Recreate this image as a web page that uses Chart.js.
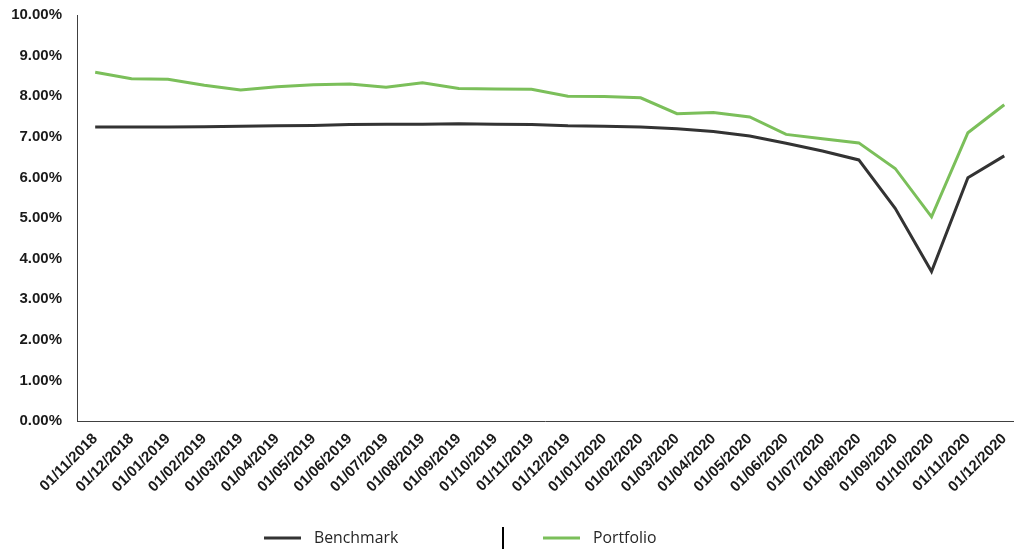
<!DOCTYPE html>
<html>
<head>
<meta charset="utf-8">
<script src="https://cdn.jsdelivr.net/npm/chart.js@4"></script>
<style>
  html, body { margin: 0; padding: 0; background: #ffffff; overflow: hidden; }
  #wrap { width: 1018px; height: 549px; position: relative; }
</style>
</head>
<body>
<div id="wrap"><canvas id="c" width="1018" height="549"></canvas></div>
<script>
const categories = ["01/11/2018","01/12/2018","01/01/2019","01/02/2019","01/03/2019","01/04/2019","01/05/2019","01/06/2019","01/07/2019","01/08/2019","01/09/2019","01/10/2019","01/11/2019","01/12/2019","01/01/2020","01/02/2020","01/03/2020","01/04/2020","01/05/2020","01/06/2020","01/07/2020","01/08/2020","01/09/2020","01/10/2020","01/11/2020","01/12/2020"];
const benchmark = [7.24,7.24,7.24,7.25,7.26,7.27,7.28,7.30,7.31,7.31,7.32,7.31,7.30,7.27,7.26,7.24,7.20,7.13,7.02,6.84,6.65,6.43,5.24,3.68,5.99,6.53];
const portfolio = [8.59,8.43,8.42,8.27,8.15,8.23,8.28,8.30,8.22,8.33,8.19,8.18,8.17,8.00,7.99,7.96,7.57,7.60,7.49,7.06,6.95,6.85,6.22,5.03,7.10,7.79];
const yTicks = [0,1,2,3,4,5,6,7,8,9,10];
const seriesNames = ["Benchmark","Portfolio"];

const toPoints = arr => arr.map((v, i) => ({x: i, y: v}));

const legendPlugin = {
  id: 'customLegend',
  afterDraw(chart, args, opts) {
    const ctx = chart.ctx;
    ctx.save();
    const ds = chart.data.datasets;
    opts.items.forEach((it, i) => {
      const d = ds[i];
      ctx.strokeStyle = d.borderColor;
      ctx.lineWidth = 3;
      ctx.beginPath();
      ctx.moveTo(it.x, opts.y);
      ctx.lineTo(it.x + opts.lineLen, opts.y);
      ctx.stroke();
      ctx.fillStyle = opts.color;
      ctx.font = opts.font;
      ctx.textBaseline = 'middle';
      ctx.textAlign = 'left';
      ctx.fillText(d.label, it.x + opts.lineLen + opts.gap, opts.y);
    });
    ctx.strokeStyle = '#000000';
    ctx.lineWidth = 2;
    ctx.beginPath();
    ctx.moveTo(opts.sepX, opts.sepTop);
    ctx.lineTo(opts.sepX, opts.sepBottom);
    ctx.stroke();
    ctx.restore();
  }
};

new Chart(document.getElementById('c'), {
  type: 'line',
  data: {
    datasets: [
      { label: seriesNames[0], data: toPoints(benchmark), borderColor: '#333333', backgroundColor: '#333333', borderWidth: 3, pointRadius: 0, tension: 0 },
      { label: seriesNames[1], data: toPoints(portfolio), borderColor: '#7BBF5A', backgroundColor: '#7BBF5A', borderWidth: 3, pointRadius: 0, tension: 0 }
    ]
  },
  options: {
    responsive: false,
    animation: false,
    layout: { padding: { top: 15, right: 1, bottom: 0, left: 0 } },
    plugins: {
      legend: { display: false },
      tooltip: { enabled: false },
      customLegend: {
        y: 538, lineLen: 37, gap: 13,
        items: [{x: 264}, {x: 543}],
        sepX: 503, sepTop: 527, sepBottom: 549,
        font: '15.8px "Open Sans"', color: '#262626'
      }
    },
    scales: {
      x: {
        type: 'linear',
        min: -0.5,
        max: 25.25,
        afterFit(scale) { scale.height = 128; },
        grid: { display: false },
        border: { display: true, color: '#404040', width: 1 },
        ticks: {
          stepSize: 1,
          includeBounds: false,
          autoSkip: false,
          maxRotation: 45,
          minRotation: 45,
          padding: 1,
          color: '#1a1a1a',
          font: { family: '"Liberation Sans", Arial, sans-serif', size: 15, weight: 'bold' },
          callback: (v) => (Number.isInteger(v) && categories[v] !== undefined) ? categories[v] : ''
        }
      },
      y: {
        min: 0,
        max: 10,
        afterFit(scale) { scale.width = 77; scale.paddingTop = 0; scale.paddingBottom = 0; },
        afterBuildTicks(scale) { scale.ticks = yTicks.map(v => ({value: v})); },
        grid: { display: false },
        border: { display: true, color: '#404040', width: 1 },
        ticks: {
          padding: 7,
          color: '#1a1a1a',
          font: { family: '"Liberation Sans", Arial, sans-serif', size: 15, weight: 'bold' },
          callback: (v) => v.toFixed(2) + '%'
        }
      }
    }
  },
  plugins: [legendPlugin]
});
</script>
</body>
</html>
